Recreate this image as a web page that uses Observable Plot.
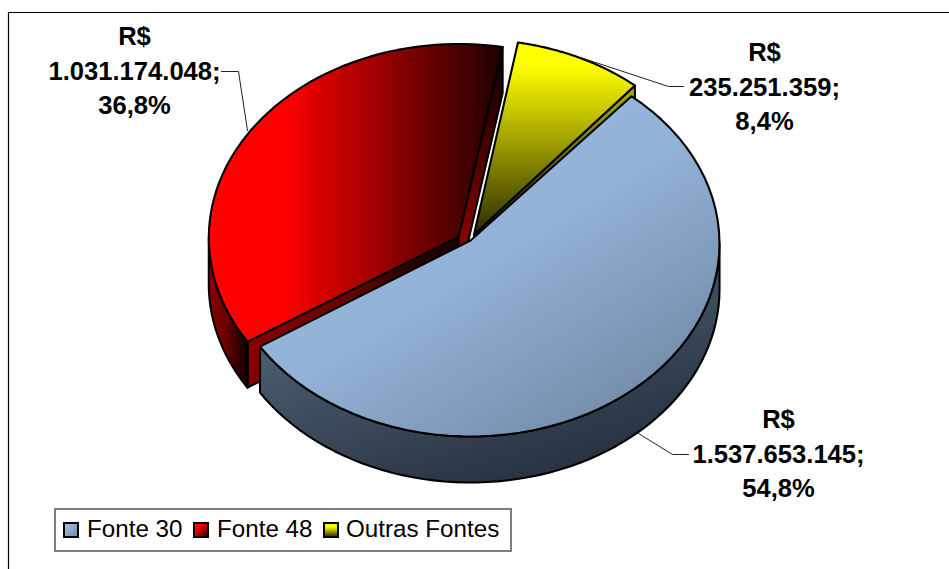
<!DOCTYPE html>
<html>
<head>
<meta charset="utf-8">
<script src="https://cdn.jsdelivr.net/npm/d3@7"></script>
<script src="https://cdn.jsdelivr.net/npm/@observablehq/plot@0.6"></script>
<style>
html,body{margin:0;padding:0;background:#fff;overflow:hidden}
#wrap{position:relative;width:949px;height:569px;font-family:"Liberation Sans",Arial,sans-serif}
#legend{position:absolute;left:54px;top:508px;width:454px;height:40px;border:2px solid #7f7f7f;background:#fff;color:#000;font-size:24.2px;line-height:38px;white-space:nowrap}
#legend span.t{position:absolute;top:0}
#legend i{position:absolute;top:12px;width:12px;height:12px;border:2px solid #000;display:block}
</style>
</head>
<body>
<div id="wrap"><div id="chart"></div><div id="legend"></div></div>
<script>
const categories = ["Fonte 30", "Fonte 48", "Outras Fontes"];
const values = [1537653145, 1031174048, 235251359];

// Drawing set-up of the 3D pie, separate from the data
const W = 949, H = 569;
const startAngle = 40.3;          // degrees clockwise from 12 o'clock
const depth = 46;
const arcCentres = [[470, 243], [458.3, 237.5], [474, 233]];
const radii = [[249, 193], [250, 194], [248, 194]];
const apexes = [[470, 240], [458, 236.5], [473.5, 234]];
const labelPos = [[778, 451], [134, 68], [764, 84]];
const leaders = [
  [[688, 454], [672, 454], [638, 433]],
  [[221, 71], [238, 71], [247, 130]],
  [[683, 86], [668, 86], [580, 57]]
];

const total = d3.sum(values);
const ptBR = d3.formatLocale({decimal: ",", thousands: ".", grouping: [3], currency: ["R$", ""]});
const fmtInt = ptBR.format(",d");
const fmtPct = ptBR.format(".1%");
const labels = values.map(v => `R$\n${fmtInt(v)};\n${fmtPct(v / total)}`);

// slice angles from the values
let acc = startAngle;
const slices = values.map((v, i) => {
  const a0 = acc, a1 = acc + v / total * 360;
  acc = a1;
  return {a0, a1, c: arcCentres[i], r: radii[i], apex: apexes[i]};
});
const pt = (s, deg, dz = 0) => {
  const t = deg * Math.PI / 180;
  return [s.c[0] + s.r[0] * Math.sin(t), s.c[1] - s.r[1] * Math.cos(t) + dz];
};
const arc = (s, a, b, dz = 0) => d3.range(0, 61).map(k => pt(s, a + (b - a) * k / 60, dz));
const closed = p => [...p, p[0]];
const topFace = s => closed([s.apex, ...arc(s, s.a0, s.a1)]);
const rim = (s, a, b) => closed([...arc(s, a, b), ...arc(s, a, b, depth).reverse()]);
const wall = (s, a) => closed([s.apex, pt(s, a), pt(s, a, depth), [s.apex[0], s.apex[1] + depth]]);

const [blue, red, yellow] = slices;
const face = (pts, fill) => Plot.line(pts, {x: d => d[0], y: d => d[1], fill, stroke: "#000", strokeWidth: 2.1, strokeLinejoin: "round", curve: "linear"});

const defs = () => {
  const d = d3.create("svg:defs");
  const grad = (id, x1, y1, x2, y2, stops) => {
    const g = d.append("linearGradient").attr("id", id)
      .attr("x1", x1).attr("y1", y1).attr("x2", x2).attr("y2", y2);
    stops.forEach(([o, c]) => g.append("stop").attr("offset", o).attr("stop-color", c));
  };
  grad("blueTop", .28, .22, .92, .98, [[0, "#98b8df"], [.35, "#92b1d6"], [1, "#6c849f"]]);
  grad("blueSide", .1, 0, .7, 1, [[0, "#5b6f85"], [1, "#252f3c"]]);
  grad("redTop", 0, 0, 1, 0, [[0, "#ff0000"], [.25, "#ff0000"], [1, "#1e0000"]]);
  grad("redSide", 0, 0, 1, 0, [[0, "#8a0000"], [.45, "#6a0000"], [1, "#0a0000"]]);
  grad("redFront", 0, 0, 1, 0, [[0, "#850000"], [.45, "#6e0000"], [.75, "#300000"], [1, "#1c0000"]]);
  grad("redRight", 0, 0, 0, 1, [[0, "#0c0000"], [.35, "#3a0000"], [.8, "#850000"], [1, "#850000"]]);
  grad("yellowTop", 0, 0, 0, 1, [[0, "#ffff00"], [.12, "#ffff00"], [1, "#2a2a00"]]);
  grad("yellowWall", 1, 0, 0, 0, [[0, "#a8a800"], [1, "#303000"]]);
  return d.node();
};

const plot = Plot.plot({
  width: W, height: H,
  margin: 0,
  x: {domain: [0, W], range: [0, W], axis: null},
  y: {domain: [0, H], range: [0, H], axis: null},
  marks: [
    defs,
    Plot.ruleY([12], {x1: 8, x2: W, stroke: "#000", strokeWidth: 1.2}),
    Plot.ruleX([8], {y1: 12, y2: H, stroke: "#000", strokeWidth: 1.2}),
    // red slice: walls, rim, top
    face(wall(red, red.a0), "url(#redFront)"),
    face(wall(red, red.a1), "url(#redRight)"),
    face(rim(red, red.a0, 270), "url(#redSide)"),
    face(topFace(red), "url(#redTop)"),
    // yellow slice
    face(wall(yellow, yellow.a1), "url(#yellowWall)"),
    face(topFace(yellow), "url(#yellowTop)"),
    // blue slice
    face(rim(blue, 90, blue.a1), "url(#blueSide)"),
    face(topFace(blue), "url(#blueTop)"),
    // leaders and labels
    ...leaders.map(l => Plot.line(l, {x: d => d[0], y: d => d[1], stroke: "#222", strokeWidth: 1})),
    Plot.text(labels, {
      x: (d, i) => labelPos[i][0], y: (d, i) => labelPos[i][1],
      text: d => d, fontWeight: "bold", fontSize: 25.6, lineHeight: 1.35,
      fontFamily: "Liberation Sans", fill: "#000", textAnchor: "middle"
    })
  ]
});
document.getElementById("chart").appendChild(plot);

// legend
const swatches = [
  "linear-gradient(135deg,#a6c4ea,#6f88a6)",
  "linear-gradient(135deg,#ff0000 30%,#3a0000)",
  "linear-gradient(180deg,#ffff00 25%,#3a3a00)"
];
const swatchX = [7, 137, 267], textX = [31, 161, 290];
const lg = document.getElementById("legend");
categories.forEach((c, i) => {
  const s = document.createElement("i");
  s.style.left = swatchX[i] + "px"; s.style.background = swatches[i];
  lg.appendChild(s);
  const t = document.createElement("span");
  t.className = "t"; t.style.left = textX[i] + "px"; t.textContent = c;
  lg.appendChild(t);
});
</script>
</body>
</html>
